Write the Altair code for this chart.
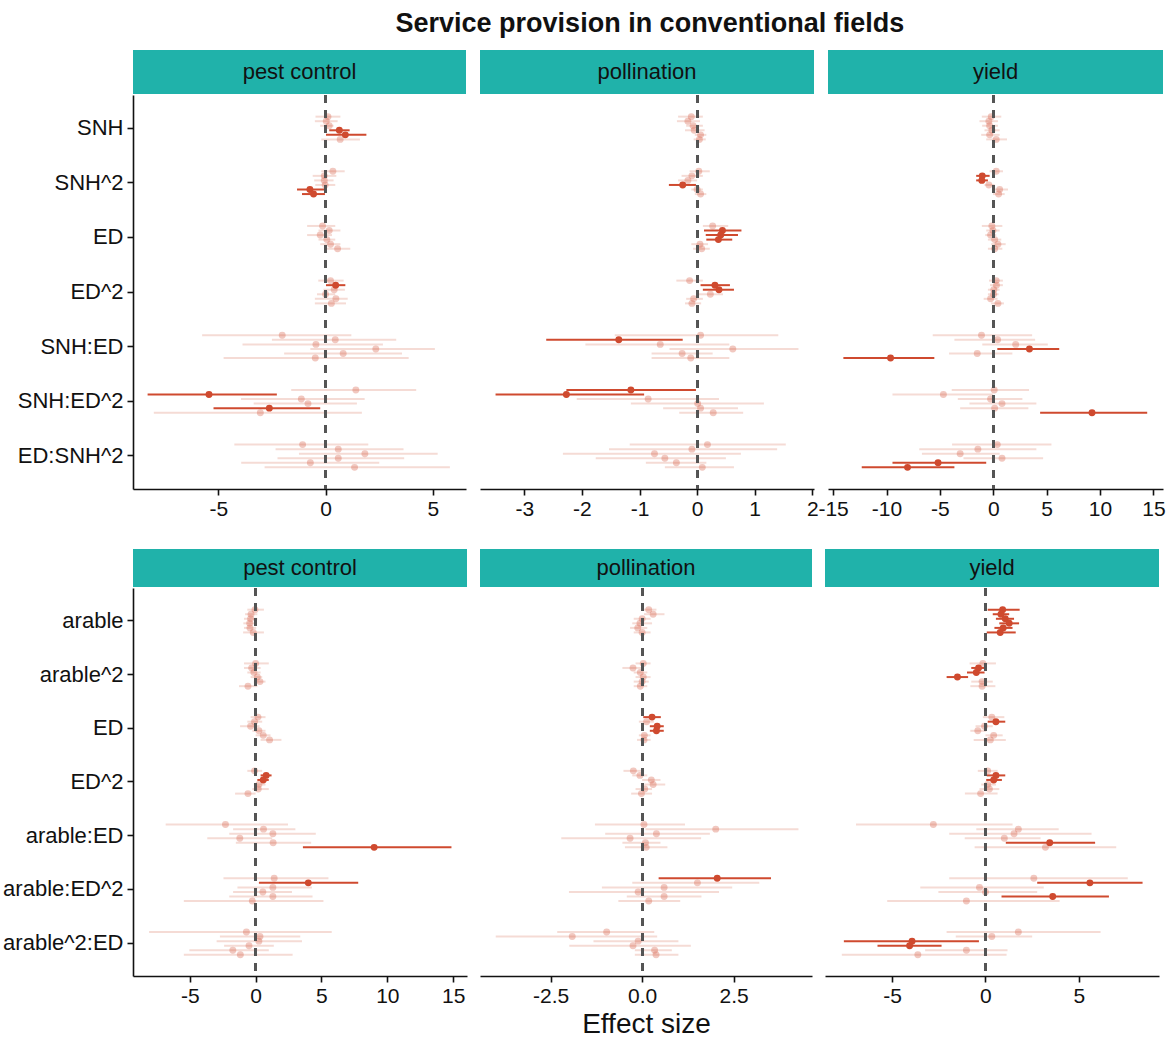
import altair as alt
import pandas as pd

FONT = "Liberation Sans"
DARK = "#CF4A2F"
TEAL = "#20B2AA"

TITLE = "Service provision in conventional fields"
SERVICES = ["pest control", "pollination", "yield"]
MODELS = ["m1", "m2", "m3", "m4", "m5", "m6"]
TOP_TERMS = ["SNH", "SNH^2", "ED", "ED^2", "SNH:ED", "SNH:ED^2", "ED:SNH^2"]
BOT_TERMS = ["arable", "arable^2", "ED", "ED^2", "arable:ED", "arable:ED^2", "arable^2:ED"]

# ---------- top row: pest control ----------
T_PEST_EST = [[0.11, 0.03, 0.17, 0.64, 0.92, 0.68],
              [0.34, -0.06, -0.06, -0.02, -0.73, -0.56],
              [-0.14, 0.17, -0.25, 0.06, 0.23, 0.56],
              [0.23, 0.47, 0.40, 0.00, 0.48, 0.27],
              [-2.02, 0.45, -0.45, 2.34, 0.82, -0.48],
              [1.41, -5.43, -1.13, -0.82, -2.62, -3.04],
              [-1.07, 0.59, 1.83, 0.59, -0.71, 1.35]]
T_PEST_LO = [[-0.47, -0.50, -0.25, 0.17, 0.02, -0.20],
             [-0.20, -0.60, -0.53, -0.48, -1.33, -1.10],
             [-0.86, -0.33, -0.86, -0.33, -0.25, -0.02],
             [-0.34, 0.02, -0.10, -0.40, -0.50, -0.50],
             [-5.75, -2.50, -3.87, -0.71, -1.93, -4.75],
             [-1.60, -8.29, -3.94, -3.35, -5.22, -8.00],
             [-4.25, -2.33, -1.24, -2.24, -3.93, -2.84]]
T_PEST_HI = [[0.69, 0.56, 0.37, 1.12, 1.90, 1.60],
             [0.89, 0.50, 0.37, 0.45, -0.06, -0.03],
             [0.45, 0.69, 0.30, 0.45, 0.69, 1.15],
             [0.84, 0.92, 0.90, 0.45, 1.03, 0.95],
             [1.20, 3.29, 2.67, 5.09, 3.56, 3.87],
             [4.22, -2.27, 1.82, 1.46, -0.25, 1.69],
             [1.99, 3.63, 5.22, 3.66, 2.50, 5.79]]
T_PEST_SIG = [[0, 0, 0, 1, 1, 0], [0, 0, 0, 0, 1, 1], [0, 0, 0, 0, 0, 0],
              [0, 1, 0, 0, 0, 0], [0, 0, 0, 0, 0, 0], [0, 1, 0, 0, 1, 0],
              [0, 0, 0, 0, 0, 0]]

# ---------- top row: pollination ----------
T_POLL_EST = [[-0.10, -0.16, -0.07, -0.05, 0.06, 0.04],
              [0.03, -0.09, -0.16, -0.25, 0.00, 0.06],
              [0.27, 0.44, 0.41, 0.37, 0.05, 0.08],
              [-0.13, 0.31, 0.38, 0.23, -0.06, -0.09],
              [0.06, -1.36, -0.64, 0.62, -0.26, -0.11],
              [-1.15, -2.27, -0.85, 0.01, 0.06, 0.28],
              [0.18, -0.09, -0.74, -0.56, -0.36, 0.09]]
T_POLL_LO = [[-0.33, -0.35, -0.19, -0.21, -0.04, -0.06],
             [-0.13, -0.27, -0.33, -0.49, -0.10, -0.04],
             [0.10, 0.12, 0.15, 0.16, -0.10, -0.07],
             [-0.36, 0.06, 0.10, 0.00, -0.19, -0.21],
             [-1.43, -2.62, -1.94, -0.48, -0.79, -0.79],
             [-2.27, -3.50, -2.09, -1.15, -0.59, -0.31],
             [-1.17, -1.53, -2.33, -1.76, -0.89, -0.56]]
T_POLL_HI = [[0.10, 0.05, 0.10, 0.13, 0.16, 0.15],
             [0.22, 0.10, 0.00, -0.02, 0.10, 0.16],
             [0.54, 0.77, 0.71, 0.61, 0.19, 0.22],
             [0.10, 0.57, 0.64, 0.45, 0.10, 0.07],
             [1.41, -0.25, 0.56, 1.76, 0.27, 0.56],
             [-0.02, -0.92, 0.38, 1.16, 0.71, 0.80],
             [1.54, 1.39, 0.76, 0.50, 0.16, 0.64]]
T_POLL_SIG = [[0, 0, 0, 0, 0, 0], [0, 0, 0, 1, 0, 0], [0, 1, 1, 1, 0, 0],
              [0, 1, 1, 0, 0, 0], [0, 1, 0, 0, 0, 0], [1, 1, 0, 0, 0, 0],
              [0, 0, 0, 0, 0, 0]]

# ---------- top row: yield ----------
T_YIELD_EST = [[-0.19, -0.41, -0.34, -0.13, -0.34, 0.28],
               [0.28, -1.03, -1.07, -0.41, 0.60, 0.50],
               [-0.13, -0.03, -0.25, 0.13, 0.44, 0.13],
               [0.28, 0.30, 0.05, 0.03, -0.25, 0.44],
               [-1.10, 0.41, 2.10, 3.39, -1.50, -9.62],
               [0.09, -4.67, -0.25, 0.82, 0.13, 9.25],
               [0.38, -1.44, -3.10, 0.82, -5.17, -8.03]]
T_YIELD_LO = [[-1.07, -1.29, -1.04, -0.82, -1.13, -0.66],
              [-0.35, -1.60, -1.60, -0.82, -0.03, -0.03],
              [-1.07, -0.66, -0.75, -0.50, -0.19, -0.50],
              [-0.40, -0.30, -0.50, -0.50, -0.90, -0.20],
              [-5.67, -3.64, -1.03, 0.38, -4.14, -14.04],
              [-3.89, -9.44, -3.32, -2.23, -3.10, 4.39],
              [-3.86, -6.93, -6.68, -2.79, -9.44, -12.32]]
T_YIELD_HI = [[0.75, 0.44, 0.44, 0.60, 0.60, 1.29],
              [0.91, -0.34, -0.50, 0.13, 1.38, 1.07],
              [0.85, 0.60, 0.28, 0.75, 1.16, 0.85],
              [0.90, 0.90, 0.60, 0.50, 0.40, 1.00],
              [3.64, 3.92, 5.11, 6.18, 1.79, -5.52],
              [3.35, -0.03, 2.73, 4.04, 3.29, 14.42],
              [5.45, 4.04, 0.60, 4.67, -0.66, -3.64]]
T_YIELD_SIG = [[0, 0, 0, 0, 0, 0], [0, 1, 1, 0, 0, 0], [0, 0, 0, 0, 0, 0],
               [0, 0, 0, 0, 0, 0], [0, 0, 0, 1, 0, 1], [0, 0, 0, 0, 0, 1],
               [0, 0, 0, 0, 1, 1]]

# ---------- bottom row: pest control ----------
B_PEST_EST = [[-0.05, -0.35, -0.38, -0.45, -0.43, -0.18],
              [0.00, -0.30, -0.13, 0.13, 0.33, -0.58],
              [0.18, -0.08, -0.38, 0.25, 0.58, 1.06],
              [-0.08, 0.80, 0.58, 0.25, 0.20, -0.58],
              [-2.29, 0.60, 1.31, -1.20, 1.33, 9.00],
              [1.41, 4.00, 1.31, 0.55, 1.31, -0.25],
              [-0.70, 0.33, 0.25, -0.50, -1.73, -1.16]]
B_PEST_LO = [[-0.63, -0.80, -0.88, -0.93, -0.88, -0.95],
             [-0.88, -0.88, -0.63, -0.38, -0.13, -1.26],
             [-0.38, -0.63, -1.18, -0.25, 0.00, 0.38],
             [-0.63, 0.38, 0.13, -0.13, -0.25, -1.56],
             [-6.83, -1.71, -2.00, -3.67, -1.50, 3.59],
             [-2.44, 0.25, -1.38, -1.71, -2.00, -5.45],
             [-8.09, -2.71, -2.96, -2.39, -5.03, -5.45]]
B_PEST_HI = [[0.63, 0.13, 0.13, 0.05, 0.05, 0.63],
             [1.00, 0.38, 0.38, 0.50, 0.75, 0.13],
             [0.75, 0.50, 0.30, 0.75, 1.13, 1.96],
             [0.50, 1.21, 1.00, 0.75, 1.00, 0.00],
             [2.46, 3.02, 4.57, 1.26, 4.22, 14.87],
             [5.53, 7.79, 4.27, 2.76, 4.32, 5.15],
             [5.78, 3.39, 3.52, 1.38, 1.00, 2.81]]
B_PEST_SIG = [[0, 0, 0, 0, 0, 0], [0, 0, 0, 0, 0, 0], [0, 0, 0, 0, 0, 0],
              [0, 1, 1, 0, 0, 0], [0, 0, 0, 0, 0, 1], [0, 1, 0, 0, 0, 0],
              [0, 0, 0, 0, 0, 0]]

# ---------- bottom row: pollination ----------
B_POLL_EST = [[0.18, 0.30, 0.00, -0.06, -0.12, 0.00],
              [0.03, -0.25, -0.05, 0.03, 0.00, -0.05],
              [0.27, 0.12, 0.41, 0.39, 0.06, 0.05],
              [-0.24, -0.06, 0.25, 0.30, 0.07, -0.02],
              [0.05, 2.01, 0.39, -0.33, 0.09, 0.11],
              [2.05, 1.51, 0.60, -0.11, 0.60, 0.18],
              [-0.97, -1.91, -0.11, -0.25, 0.34, 0.38]]
B_POLL_LO = [[0.00, 0.05, -0.23, -0.27, -0.33, -0.23],
             [-0.18, -0.54, -0.23, -0.18, -0.23, -0.23],
             [0.03, -0.09, 0.21, 0.21, -0.09, -0.14],
             [-0.51, -0.27, 0.00, 0.06, -0.18, -0.30],
             [-1.29, 0.09, -1.01, -2.21, -0.54, -0.47],
             [0.45, -0.27, -1.10, -2.00, -0.42, -0.65],
             [-2.32, -4.00, -1.33, -1.99, -0.20, -0.20]]
B_POLL_HI = [[0.39, 0.61, 0.23, 0.27, 0.14, 0.23],
             [0.23, 0.00, 0.14, 0.23, 0.18, 0.14],
             [0.51, 0.32, 0.59, 0.59, 0.23, 0.23],
             [0.00, 0.14, 0.50, 0.63, 0.27, 0.27],
             [1.17, 4.27, 1.85, 1.61, 0.50, 0.69],
             [3.52, 3.20, 2.46, 2.10, 1.62, 1.04],
             [0.33, 0.41, 0.99, 1.33, 0.81, 0.99]]
B_POLL_SIG = [[0, 0, 0, 0, 0, 0], [0, 0, 0, 0, 0, 0], [1, 0, 1, 1, 0, 0],
              [0, 0, 0, 0, 0, 0], [0, 0, 0, 0, 0, 0], [1, 0, 0, 0, 0, 0],
              [0, 0, 0, 0, 0, 0]]

# ---------- bottom row: yield ----------
B_YIELD_EST = [[0.92, 0.83, 1.06, 1.27, 0.95, 0.79],
               [-0.14, -0.37, -0.49, -1.50, -0.18, -0.18],
               [0.34, 0.56, -0.05, -0.41, 0.44, 0.26],
               [0.12, 0.56, 0.44, 0.12, 0.21, -0.26],
               [-2.79, 1.76, 1.53, 1.01, 3.44, 3.21],
               [2.59, 5.59, -0.32, 0.00, 3.60, -1.02],
               [1.76, 0.34, -3.93, -4.06, -1.02, -3.62]]
B_YIELD_LO = [[0.12, 0.39, 0.56, 0.74, 0.48, 0.07],
              [-0.85, -0.76, -0.99, -2.08, -0.76, -0.81],
              [-0.14, 0.12, -0.53, -0.81, 0.00, -0.63],
              [-0.41, 0.07, 0.04, -0.23, -0.32, -1.10],
              [-6.93, -0.49, -1.94, -1.11, 1.09, -0.58],
              [-1.94, 2.77, -3.49, -2.52, 0.86, -5.26],
              [-2.08, -1.59, -7.58, -5.78, -3.23, -7.69]]
B_YIELD_HI = [[1.83, 1.27, 1.53, 1.80, 1.45, 1.62],
              [0.56, -0.05, -0.05, -0.93, 0.39, 0.53],
              [1.01, 1.06, 0.39, 0.04, 0.92, 1.09],
              [0.65, 1.06, 0.88, 0.56, 0.74, 0.65],
              [1.45, 3.92, 5.68, 2.95, 5.87, 7.00],
              [7.62, 8.41, 3.12, 2.77, 6.61, 3.97],
              [6.16, 2.50, -0.35, -2.35, 1.18, 1.13]]
B_YIELD_SIG = [[1, 1, 1, 1, 1, 1], [0, 1, 1, 1, 0, 0], [0, 1, 0, 0, 0, 0],
               [0, 1, 1, 0, 0, 0], [0, 0, 0, 0, 1, 0], [0, 1, 0, 0, 1, 0],
               [0, 0, 1, 1, 0, 0]]

# axis tick values / domains per panel
T_PEST_TICKS = [-5, 0, 5]
T_POLL_TICKS = [-3, -2, -1, 0, 1, 2]
T_YIELD_TICKS = [-15, -10, -5, 0, 5, 10, 15]
B_PEST_TICKS = [-5, 0, 5, 10, 15]
B_POLL_TICKS = [-2.5, 0.0, 2.5]
B_YIELD_TICKS = [-5, 0, 5]
T_DOMAINS = [[-8.97, 6.54], [-3.77, 2.03], [-15.48, 15.9]]
B_DOMAINS = [[-9.31, 16.05], [-4.43, 4.64], [-8.59, 9.29]]


def frame(terms, est, lo, hi, sig):
    rows = []
    for i, t in enumerate(terms):
        for j, m in enumerate(MODELS):
            rows.append({"term": t, "model": m, "est": est[i][j],
                         "lo": lo[i][j], "hi": hi[i][j],
                         "sig": "yes" if sig[i][j] else "no"})
    return pd.DataFrame(rows)


def panel(df, terms, service, domain, ticks, width, height, strip_h,
          first, pad_outer, fmt="d", xtitle=None):
    yaxis = alt.Axis(labelFontSize=22, labelColor="#111", labelFont=FONT,
                     domainColor="#111", domainWidth=1.6, tickColor="#111",
                     tickWidth=1.6, tickSize=6, labelPadding=4, title=None) if first else None
    y = alt.Y("term:N", sort=terms,
              scale=alt.Scale(domain=terms, paddingInner=0.5, paddingOuter=pad_outer),
              axis=yaxis)
    yoff = alt.YOffset("model:N", sort=MODELS, scale=alt.Scale(domain=MODELS))
    xaxis = alt.Axis(values=ticks, format=fmt, labelFontSize=21, labelColor="#111",
                     labelExpr="replace(datum.label, '\u2212', '-')",
                     labelFont=FONT, domainColor="#111", domainWidth=1.6,
                     tickColor="#111", tickWidth=1.6, tickSize=6, grid=False,
                     labelPadding=3, labelOverlap=False,
                     title=xtitle if xtitle else None, titleFontSize=28,
                     titleFont=FONT, titleFontWeight="normal", titleColor="#111",
                     titlePadding=4)
    xscale = alt.Scale(domain=domain, nice=False, zero=False)
    base = alt.Chart(df)
    rules = base.mark_rule(color=DARK, strokeWidth=2).encode(
        x=alt.X("lo:Q", scale=xscale, axis=xaxis),
        x2="hi:Q", y=y, yOffset=yoff,
        opacity=alt.condition(alt.datum.sig == "yes", alt.value(1.0), alt.value(0.2)),
    )
    points = base.mark_circle(color=DARK, size=48).encode(
        x=alt.X("est:Q", scale=xscale), y=y, yOffset=yoff,
        opacity=alt.condition(alt.datum.sig == "yes", alt.value(1.0), alt.value(0.3)),
    )
    zero = base.mark_rule(color="#555555", strokeWidth=2, strokeDash=[8, 7]).encode(
        x=alt.datum(0)
    )
    sdata = alt.Data(values=[{"s": service}])
    strip = alt.Chart(sdata).mark_rect(color=TEAL).encode(
        x=alt.value(0), x2=alt.value(width),
        y=alt.value(-strip_h - 1), y2=alt.value(-1),
    )
    stext = alt.Chart(sdata).mark_text(fontSize=22, font=FONT, color="#111").encode(
        x=alt.value(width / 2), y=alt.value(-strip_h / 2 - 1), text="s:N"
    )
    return alt.layer(strip, stext, rules, points, zero).properties(width=width, height=height)


top_sets = [
    (T_PEST_EST, T_PEST_LO, T_PEST_HI, T_PEST_SIG, T_PEST_TICKS),
    (T_POLL_EST, T_POLL_LO, T_POLL_HI, T_POLL_SIG, T_POLL_TICKS),
    (T_YIELD_EST, T_YIELD_LO, T_YIELD_HI, T_YIELD_SIG, T_YIELD_TICKS),
]
bot_sets = [
    (B_PEST_EST, B_PEST_LO, B_PEST_HI, B_PEST_SIG, B_PEST_TICKS),
    (B_POLL_EST, B_POLL_LO, B_POLL_HI, B_POLL_SIG, B_POLL_TICKS),
    (B_YIELD_EST, B_YIELD_LO, B_YIELD_HI, B_YIELD_SIG, B_YIELD_TICKS),
]
top_w = [333, 334, 335]
bot_w = [334, 332, 334]

top_panels = []
for k, (e, l, h, s, t) in enumerate(top_sets):
    top_panels.append(panel(frame(TOP_TERMS, e, l, h, s), TOP_TERMS, SERVICES[k],
                            T_DOMAINS[k], t, top_w[k], 394, 44, k == 0, 0.354))
bot_panels = []
for k, (e, l, h, s, t) in enumerate(bot_sets):
    bot_panels.append(panel(frame(BOT_TERMS, e, l, h, s), BOT_TERMS, SERVICES[k],
                            B_DOMAINS[k], t, bot_w[k], 388, 38, k == 0, 0.361,
                            fmt=".1f" if k == 1 else "d",
                            xtitle="Effect size" if k == 1 else None))

top_row = alt.hconcat(*top_panels, spacing=14, bounds="flush")
bot_row = alt.hconcat(*bot_panels, spacing=13, bounds="flush")

chart = alt.vconcat(top_row, bot_row, spacing=30).properties(
    title=alt.Title(TITLE, fontSize=27, fontWeight="bold", font=FONT, color="#111",
                    anchor="middle", dx=66, offset=12),
    padding={"left": 2, "top": 10, "right": 5, "bottom": 5},
).configure_view(stroke=None)

chart.save("out.html", embed_options={"renderer": "svg", "actions": False})
